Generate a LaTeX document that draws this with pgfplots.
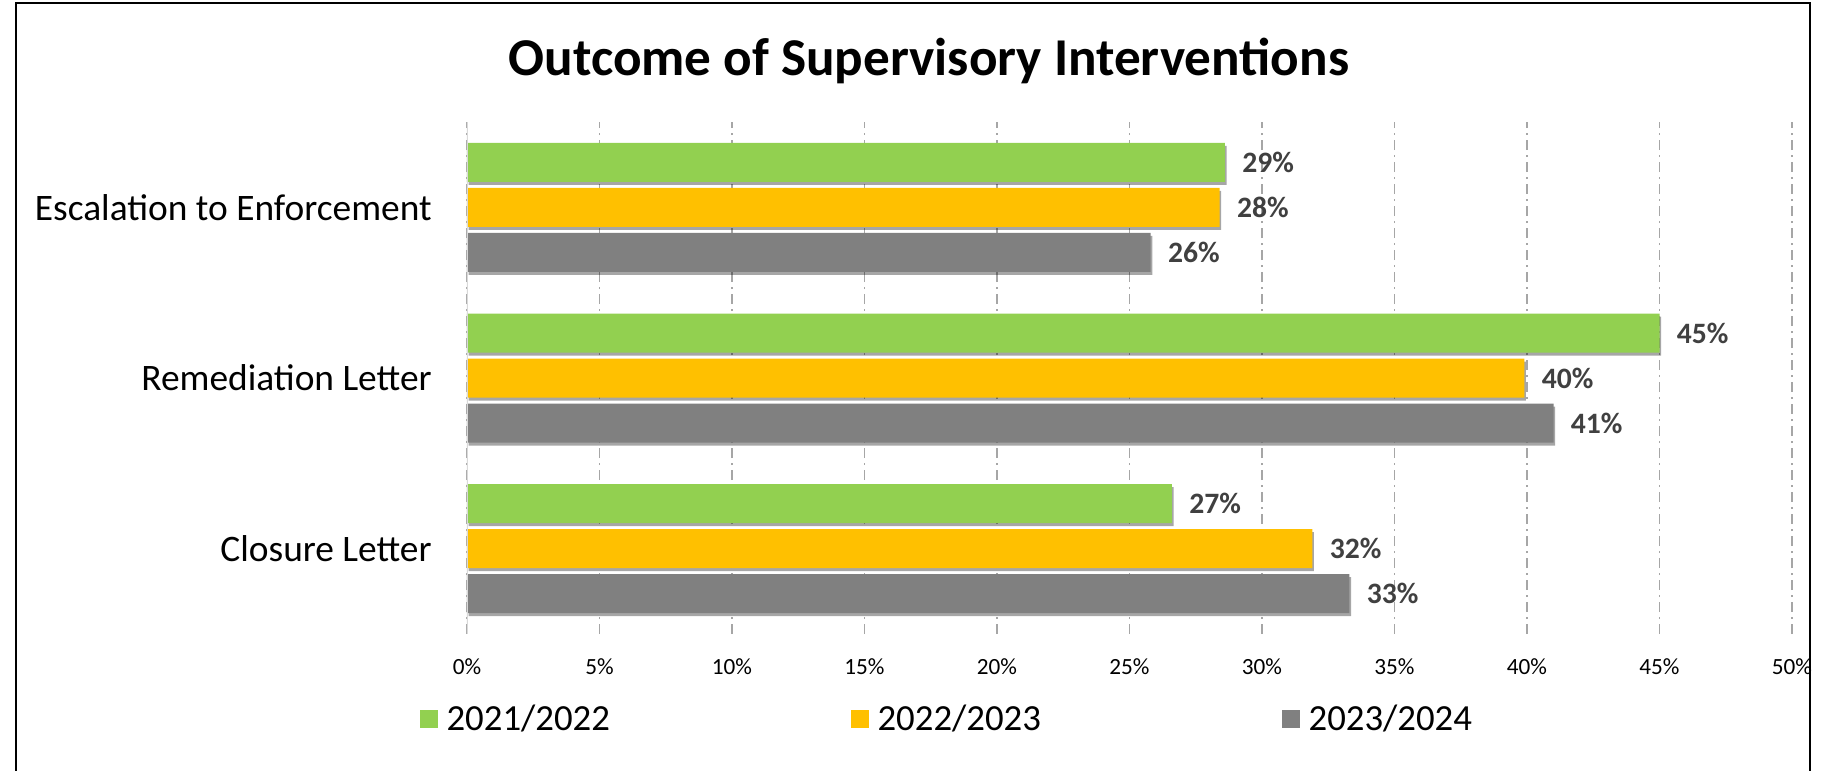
\documentclass[border=0pt]{standalone}
\usepackage{pgfplots}
\pgfplotsset{compat=1.18}
\usepackage{fontspec}
\setmainfont{Carlito}
\usetikzlibrary{shadows}
\definecolor{c21}{HTML}{92D050}
\definecolor{c22}{HTML}{FFC000}
\definecolor{c23}{HTML}{808080}
\definecolor{lbl}{HTML}{404040}
\definecolor{gridc}{HTML}{A6A6A6}
\definecolor{axc}{HTML}{D9D9D9}
\tikzset{barshadow/.style={drop shadow={shadow xshift=0.8pt, shadow yshift=-1.5pt, opacity=0.35, fill=black}}}

\begin{document}
\begin{tikzpicture}
\useasboundingbox (0,0) rectangle (921.5pt,-385.5pt);
\draw[line width=1pt] (8pt,-400pt) -- (8pt,-1.5pt) -- (905pt,-1.5pt) -- (905pt,-400pt);
\node[font=\fontsize{26.6}{30}\selectfont\bfseries] at (464.5pt,-30.5pt) {Outcome of Supervisory Interventions};
\begin{axis}[
  at={(233.5pt,-317pt)}, anchor=south west,
  scale only axis, width=662.5pt, height=256pt,
  xbar, bar width=19.5pt,
  xmin=0, xmax=50, ymin=-0.5, ymax=2.5,
  xtick={0,5,...,50},
  xticklabels={0\%,5\%,10\%,15\%,20\%,25\%,30\%,35\%,40\%,45\%,50\%},
  ytick={0,1,2},
  yticklabels={Closure Letter,Remediation Letter\hspace{4.4pt},Escalation to Enforcement},
  tick style={draw=none},
  axis line style={draw=none},
  xmajorgrids,
  major x grid style={gridc, line width=0.6pt, dash pattern=on 5pt off 2.5pt on 1pt off 2.5pt},
  xticklabel style={font=\fontsize{11.6}{13}\selectfont, anchor=center, yshift=-16.5pt},
  yticklabel style={font=\fontsize{18.7}{22}\selectfont, inner sep=0pt, xshift=-13.2pt},
  point meta=explicit symbolic,
  nodes near coords,
  nodes near coords style={font=\fontsize{14.8}{17}\selectfont\bfseries, color=lbl, inner sep=0pt, anchor=west, xshift=8.5pt},
  legend columns=3,
  legend style={at={(-0.0355,-0.166)}, anchor=west, draw=none, fill=none,
    font=\fontsize{18.4}{22}\selectfont, inner sep=0pt,
    /tikz/every odd column/.append style={column sep=2.5pt},
    /tikz/every even column/.append style={column sep=118.7pt}},
]
\addlegendimage{legend image code/.code={\fill[c21] (0pt,-4.1pt) rectangle (8.2pt,4.1pt);}}
\addlegendimage{legend image code/.code={\fill[c22] (0pt,-4.1pt) rectangle (8.2pt,4.1pt);}}
\addlegendimage{legend image code/.code={\fill[c23] (0pt,-4.1pt) rectangle (8.2pt,4.1pt);}}
\addplot[forget plot, fill=c21, draw=none, bar shift=22.5pt, barshadow] coordinates {
  (26.6,0) [27\%] (45.0,1) [45\%] (28.6,2) [29\%]};
\addplot[forget plot, fill=c22, draw=none, bar shift=0pt, barshadow] coordinates {
  (31.9,0) [32\%] (39.9,1) [40\%] (28.4,2) [28\%]};
\addplot[forget plot, fill=c23, draw=none, bar shift=-22.5pt, barshadow] coordinates {
  (33.3,0) [33\%] (41.0,1) [41\%] (25.8,2) [26\%]};
\draw[axc, line width=1.5pt] (axis cs:0,-0.5) -- (axis cs:0,2.5);
\legend{2021/2022, 2022/2023, 2023/2024}
\end{axis}
\end{tikzpicture}
\end{document}
